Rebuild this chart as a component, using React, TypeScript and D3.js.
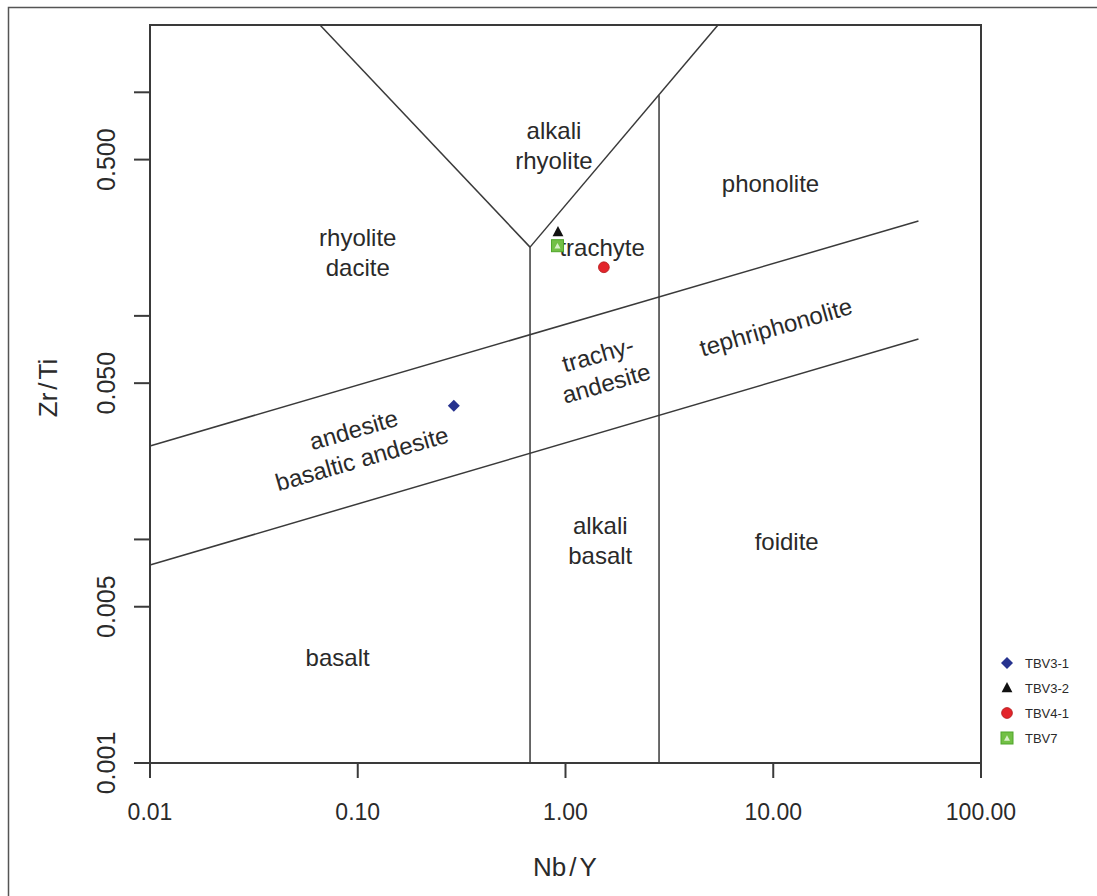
import React from "react";
import * as d3 from "d3";

// ---- data ----
const xTickValues = [0.01, 0.1, 1, 10, 100];
const xTickLabels = ["0.01", "0.10", "1.00", "10.00", "100.00"];
const yTickValues = [0.001, 0.005, 0.01, 0.05, 0.1, 0.5, 1];
const yTickLabels = ["0.001", "0.005", "", "0.050", "", "0.500", ""];

// field boundaries (Nb/Y, Zr/Ti)
const boundaryLeftArm = [[0.0658, 2], [0.675, 0.203]];
const boundaryRightArm = [[0.675, 0.203], [5.42, 2]];
const boundaryVert1 = [[0.675, 0.001], [0.675, 0.203]];
const boundaryVert2 = [[2.82, 0.001], [2.82, 0.97]];
const boundaryUpperDiag = [[0.01, 0.0262], [50, 0.2656]];
const boundaryLowerDiag = [[0.01, 0.00768], [50, 0.0788]];

const samples = ["TBV3-1", "TBV3-2", "TBV4-1", "TBV7"];
const sampleNbY = [0.29, 0.92, 1.53, 0.915];
const sampleZrTi = [0.0396, 0.237, 0.165, 0.206];

const fieldLabels = [
  { lines: ["alkali", "rhyolite"], x: 0.88, y: 0.58, rot: 0 },
  { lines: ["phonolite"], x: 9.7, y: 0.39, rot: 0 },
  { lines: ["rhyolite", "dacite"], x: 0.1, y: 0.193, rot: 0 },
  { lines: ["trachyte"], x: 1.5, y: 0.202, rot: 0 },
  { lines: ["trachy-", "andesite"], x: 1.5, y: 0.058, rot: -16 },
  { lines: ["tephriphonolite"], x: 10.3, y: 0.0892, rot: -16 },
  { lines: ["andesite", "basaltic andesite"], x: 0.1, y: 0.0267, rot: -16 },
  { lines: ["alkali", "basalt"], x: 1.47, y: 0.0099, rot: 0 },
  { lines: ["foidite"], x: 11.6, y: 0.0098, rot: 0 },
  { lines: ["basalt"], x: 0.08, y: 0.00295, rot: 0 },
];

const W = 1097;
const H = 896;
const left = 150, right = 981, top = 25, bottom = 763;

export default function App() {
  const x = d3.scaleLog().domain([0.01, 100]).range([left, right]);
  const y = d3.scaleLog().domain([0.001, 2]).range([bottom, top]);
  const line = d3
    .line<number[]>()
    .x((d) => x(d[0]))
    .y((d) => y(d[1]));
  const boundaries = [
    boundaryLeftArm,
    boundaryRightArm,
    boundaryVert1,
    boundaryVert2,
    boundaryUpperDiag,
    boundaryLowerDiag,
  ];
  const font = "'Liberation Sans', Arial, sans-serif";
  const textColor = "#2a2a2a";
  const lineColor = "#3a3a3a";

  const marker = (i: number, cx: number, cy: number, s: number) => {
    if (i === 0) {
      return (
        <path
          d={`M${cx},${cy - s}L${cx + s},${cy}L${cx},${cy + s}L${cx - s},${cy}Z`}
          fill="#27338f"
        />
      );
    }
    if (i === 1) {
      return (
        <path
          d={`M${cx},${cy - s}L${cx + s * 0.9},${cy + s * 0.7}L${cx - s * 0.9},${cy + s * 0.7}Z`}
          fill="#111"
        />
      );
    }
    if (i === 2) {
      return <circle cx={cx} cy={cy} r={s * 0.9} fill="#e3242b" stroke="#b01a1a" strokeWidth={0.8} />;
    }
    return (
      <g>
        <rect x={cx - s} y={cy - s} width={2 * s} height={2 * s} fill="#72c045" stroke="#4fa52a" strokeWidth={1} />
        <path
          d={`M${cx},${cy - s * 0.45}L${cx + s * 0.5},${cy + s * 0.45}L${cx - s * 0.5},${cy + s * 0.45}Z`}
          fill="#d8f0c8"
        />
      </g>
    );
  };

  const plotOrder = [3, 1, 2, 0];

  return (
    <svg width={W} height={H} style={{ display: "block", position: "absolute", left: 0, top: 0 }}>
      <rect x={0} y={0} width={W} height={H} fill="#ffffff" />
      {/* outer frame */}
      <path d={`M8.5,${H}V7.5H${W}`} fill="none" stroke="#555" strokeWidth={1.5} />

      {/* boundaries */}
      {boundaries.map((b, i) => (
        <path key={i} d={line(b as number[][]) || ""} fill="none" stroke={lineColor} strokeWidth={1.5} />
      ))}

      {/* plot box */}
      <rect x={left} y={top} width={right - left} height={bottom - top} fill="none" stroke={lineColor} strokeWidth={2} />

      {/* x axis ticks */}
      {xTickValues.map((v, i) => (
        <g key={"xt" + i}>
          <line x1={x(v)} x2={x(v)} y1={bottom} y2={bottom + 15} stroke={lineColor} strokeWidth={2} />
          <text x={x(v)} y={820} textAnchor="middle" fontFamily={font} fontSize={23} fill={textColor}>
            {xTickLabels[i]}
          </text>
        </g>
      ))}

      {/* y axis ticks */}
      {yTickValues.map((v, i) => (
        <g key={"yt" + i}>
          <line x1={left - 16} x2={left} y1={y(v)} y2={y(v)} stroke={lineColor} strokeWidth={2} />
          {yTickLabels[i] && (
            <text
              transform={`translate(115,${y(v)}) rotate(-90)`}
              textAnchor="middle"
              fontFamily={font}
              fontSize={25}
              fill={textColor}
            >
              {yTickLabels[i]}
            </text>
          )}
        </g>
      ))}

      {/* axis titles */}
      <text x={565} y={876} textAnchor="middle" fontFamily={font} fontSize={26} fill={textColor}>
        <tspan>Nb</tspan>
        <tspan dx={3}>/</tspan>
        <tspan dx={3}>Y</tspan>
      </text>
      <text
        transform={`translate(57,388) rotate(-90)`}
        textAnchor="middle"
        fontFamily={font}
        fontSize={26}
        fill={textColor}
      >
        <tspan>Zr</tspan>
        <tspan dx={3}>/</tspan>
        <tspan dx={3}>Ti</tspan>
      </text>

      {/* field labels */}
      {fieldLabels.map((f, i) => {
        const cx = x(f.x);
        const cy = y(f.y);
        const n = f.lines.length;
        return (
          <g key={"fl" + i} transform={`translate(${cx},${cy}) rotate(${f.rot})`}>
            {f.lines.map((t, j) => (
              <text
                key={j}
                x={0}
                y={(j - (n - 1) / 2) * 30}
                textAnchor="middle"
                dominantBaseline="central"
                fontFamily={font}
                fontSize={24}
                fill={textColor}
              >
                {t}
              </text>
            ))}
          </g>
        );
      })}

      {/* samples */}
      {plotOrder.map((i) => (
        <g key={"s" + i}>{marker(i, x(sampleNbY[i]), y(sampleZrTi[i]), 6)}</g>
      ))}

      {/* legend */}
      {samples.map((s, i) => {
        const ly = 663 + i * 25;
        return (
          <g key={"lg" + i}>
            {marker(i, 1007, ly, 6)}
            <text x={1025} y={ly} dominantBaseline="central" fontFamily={font} fontSize={13} fill={textColor}>
              {s}
            </text>
          </g>
        );
      })}
    </svg>
  );
}
